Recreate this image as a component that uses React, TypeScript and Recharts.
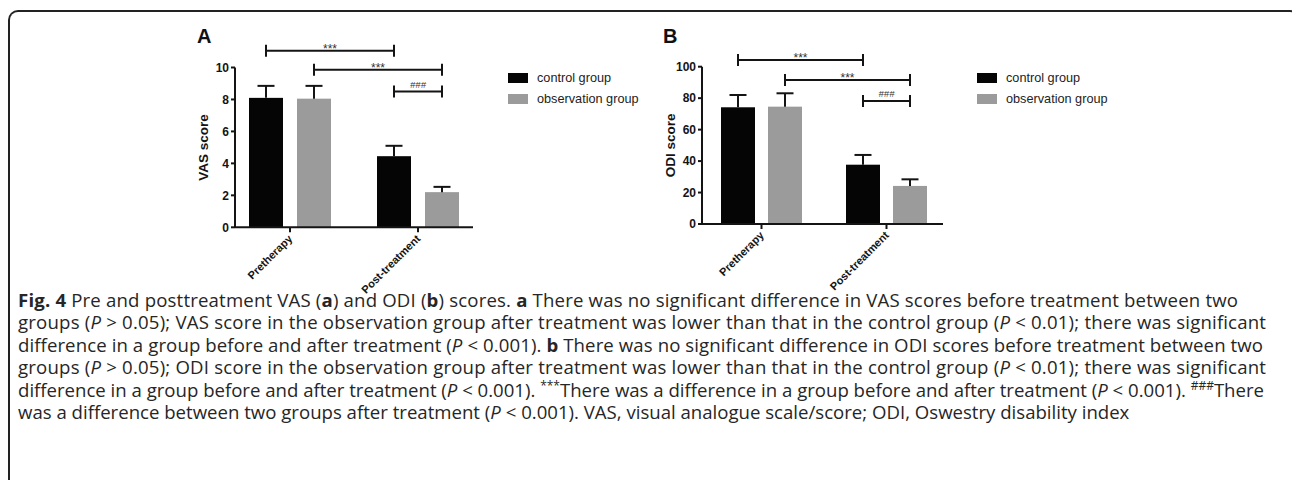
import React from 'react';
import { BarChart, Bar, XAxis, YAxis, ReferenceLine, Legend } from 'recharts';

const phases = ['Pretherapy', 'Post-treatment'];
const groupNames = ['control group', 'observation group'];
const groupColors = ['#050505', '#9b9b9b'];

// VAS (panel A)
const vasControl = [8.1, 4.45];
const vasObservation = [8.05, 2.2];
const vasControlSd = [0.75, 0.65];
const vasObservationSd = [0.8, 0.33];
const vasTicks = [0, 2, 4, 6, 8, 10];

// ODI (panel B)
const odiControl = [74.2, 37.7];
const odiObservation = [74.6, 24.2];
const odiControlSd = [7.8, 6.2];
const odiObservationSd = [8.5, 4.2];
const odiTicks = [0, 20, 40, 60, 80, 100];

// significance brackets: phase index + group index at each end
const vasBrackets = [
  { from: 0, fromGroup: 0, to: 1, toGroup: 0, y: 11.05, mark: '***' },
  { from: 0, fromGroup: 1, to: 1, toGroup: 1, y: 9.86, mark: '***' },
  { from: 1, fromGroup: 0, to: 1, toGroup: 1, y: 8.5, mark: '###' },
];
const odiBrackets = [
  { from: 0, fromGroup: 0, to: 1, toGroup: 0, y: 104.3, mark: '***' },
  { from: 0, fromGroup: 1, to: 1, toGroup: 1, y: 91.5, mark: '***' },
  { from: 1, fromGroup: 0, to: 1, toGroup: 1, y: 78.2, mark: '###' },
];

const makeRows = (ctrl: number[], obs: number[], ctrlSd: number[], obsSd: number[]) =>
  phases.map((p, i) => ({
    phase: p,
    control: ctrl[i],
    observation: obs[i],
    controlSd: ctrlSd[i],
    observationSd: obsSd[i],
  }));

const vasRows = makeRows(vasControl, vasObservation, vasControlSd, vasObservationSd);
const odiRows = makeRows(odiControl, odiObservation, odiControlSd, odiObservationSd);

const FONT = '"Liberation Sans", Arial, sans-serif';
const INK = '#141414';

const PhaseTick = (props: any) => {
  const { x, y, payload } = props;
  const ax = x + 3;
  const ay = y + 5;
  return (
    <text x={ax} y={ay} transform={`rotate(-45, ${ax}, ${ay})`} textAnchor="end"
      fontSize={11} fontWeight={700} fill={INK} fontFamily={FONT}>
      {payload.value}
    </text>
  );
};

// bar with an upward-only SD whisker (GraphPad style), scaled off the bar's own height
const whiskerBar = (sdKey: string) => (props: any) => {
  const { x, y, width, height, fill, payload, value } = props;
  const v = Array.isArray(value) ? value[1] - value[0] : value;
  const len = v ? (payload[sdKey] * height) / v : 0;
  const cx = x + width / 2;
  return (
    <g>
      <rect x={x} y={y} width={width} height={height} fill={fill} />
      <line x1={cx} x2={cx} y1={y} y2={y - len} stroke={INK} strokeWidth={2} />
      <line x1={cx - 8.5} x2={cx + 8.5} y1={y - len} y2={y - len} stroke={INK} strokeWidth={2} />
    </g>
  );
};

const makeBracket = (b: any, half: number) => (props: any) => {
  const { x1, x2, y1 } = props;
  const a = x1 + (b.fromGroup === 0 ? -half : half);
  const c = x2 + (b.toGroup === 0 ? -half : half);
  const hash = b.mark === '###';
  return (
    <g>
      <line x1={a} x2={c} y1={y1} y2={y1} stroke={INK} strokeWidth={2} />
      <line x1={a} x2={a} y1={y1 - 6} y2={y1 + 6} stroke={INK} strokeWidth={2} />
      <line x1={c} x2={c} y1={y1 - 6} y2={y1 + 6} stroke={INK} strokeWidth={2} />
      <text x={(a + c) / 2} y={hash ? y1 - 3.5 : y1 + 2} textAnchor="middle" fill="#333"
        fontSize={hash ? 9.5 : 12} fontStyle={hash ? 'italic' : 'normal'} fontFamily={FONT}>
        {b.mark}
      </text>
    </g>
  );
};

const LegendBox = (props: any) => {
  const { payload } = props;
  return (
    <div style={{ position: 'relative', height: 0 }}>
      {(payload || []).map((p: any, i: number) => (
        <div key={i} style={{ position: 'absolute', left: 0, top: i * 20.5, display: 'flex', alignItems: 'center', whiteSpace: 'nowrap', height: 10 }}>
          <span style={{ display: 'inline-block', width: 20, height: 10, background: p.color }} />
          <span style={{ marginLeft: 9, fontFamily: FONT, fontSize: 12.7, color: '#222', lineHeight: '10px' }}>{p.value}</span>
        </div>
      ))}
    </div>
  );
};

type PanelProps = {
  title: string;
  yLabel: string;
  rows: any[];
  ticks: number[];
  brackets: any[];
  left: number;
  width: number;
  margin: { top: number; right: number; bottom: number; left: number };
  padding: { left: number; right: number };
  barGap: number;
  legendLeft: number;
  titleX: number;
};

const Panel = (p: PanelProps) => {
  const half = (34 + p.barGap) / 2;
  return (
    <div style={{ position: 'absolute', left: p.left, top: 0 }}>
      <div style={{ position: 'absolute', left: p.titleX, top: 24, fontFamily: FONT, fontWeight: 700, fontSize: 20, color: '#111', lineHeight: '24px' }}>
        {p.title}
      </div>
      <BarChart width={p.width} height={300} data={p.rows} margin={p.margin} barSize={34} barGap={p.barGap}>
        <XAxis dataKey="phase" interval={0} height={70} padding={p.padding}
          axisLine={{ stroke: INK, strokeWidth: 2 }} tickLine={{ stroke: INK, strokeWidth: 2 }} tickSize={5}
          tick={<PhaseTick />} />
        <YAxis width={60} domain={[0, p.ticks[p.ticks.length - 1]]} ticks={p.ticks} interval={0}
          axisLine={{ stroke: INK, strokeWidth: 2 }} tickLine={{ stroke: INK, strokeWidth: 2 }} tickSize={4} tickMargin={2}
          tick={{ fontSize: 12, fontWeight: 700, fill: INK, fontFamily: FONT }}
          label={{ value: p.yLabel, angle: -90, position: 'insideLeft', offset: 28, style: { textAnchor: 'middle' }, fontSize: 13.5, fontWeight: 700, fill: INK, fontFamily: FONT }} />
        <Bar dataKey="control" name={groupNames[0]} fill={groupColors[0]} isAnimationActive={false}
          shape={whiskerBar('controlSd')} />
        <Bar dataKey="observation" name={groupNames[1]} fill={groupColors[1]} isAnimationActive={false}
          shape={whiskerBar('observationSd')} />
        {p.brackets.map((b, i) => (
          <ReferenceLine key={i} ifOverflow="visible"
            segment={[{ x: phases[b.from], y: b.y }, { x: phases[b.to], y: b.y }]}
            shape={makeBracket(b, half)} />
        ))}
        <Legend content={<LegendBox />} layout="horizontal" verticalAlign="bottom"
          wrapperStyle={{ left: p.legendLeft, top: 73, width: 200, height: 0 }} />
      </BarChart>
    </div>
  );
};

const P = () => <tspan fontStyle="italic">P</tspan>;
const B = (props: { children: React.ReactNode }) => <tspan fontWeight={700}>{props.children}</tspan>;
const Sup = (props: { children: string }) => (
  <>
    <tspan fontSize={12} dy={-7}>{props.children}</tspan>
    <tspan dy={7}>{''}</tspan>
  </>
);

// caption baselines and the widths each line fills in the reference (last line runs free)
const captionBaselines = [306.8, 329.3, 351.8, 374.3, 396.8, 419.3];
const captionWidths = [1220, 1248, 1245, 1248, 1246, 0];

const captionLines: React.ReactNode[] = [
  <><B>Fig. 4</B> Pre and posttreatment VAS (<B>a</B>) and ODI (<B>b</B>) scores. <B>a</B> There was no significant difference in VAS scores before treatment between two</>,
  <>groups (<P /> &gt; 0.05); VAS score in the observation group after treatment was lower than that in the control group (<P /> &lt; 0.01); there was significant</>,
  <>difference in a group before and after treatment (<P /> &lt; 0.001). <B>b</B> There was no significant difference in ODI scores before treatment between two</>,
  <>groups (<P /> &gt; 0.05); ODI score in the observation group after treatment was lower than that in the control group (<P /> &lt; 0.01); there was significant</>,
  <>difference in a group before and after treatment (<P /> &lt; 0.001). <Sup>***</Sup><tspan dy={7}>There was a difference in a group before and after treatment (</tspan><P /> &lt; 0.001). <tspan fontSize={12} dy={-7}>###</tspan><tspan dy={7}>There</tspan></>,
  <>was a difference between two groups after treatment (<P /> &lt; 0.001). VAS, visual analogue scale/score; ODI, Oswestry disability index</>,
];

export default function App() {
  return (
    <div style={{ position: 'absolute', left: 0, top: 0, width: 1292, height: 480, overflow: 'hidden', background: '#fff' }}>
      <div style={{ position: 'absolute', left: 8, top: 9.5, width: 1292, height: 600, borderTop: '2px solid #222', borderLeft: '2px solid #222', borderRight: '2px solid #222', borderRadius: 10, boxSizing: 'border-box' }} />
      <Panel title="A" yLabel="VAS score" rows={vasRows} ticks={vasTicks} brackets={vasBrackets}
        left={150} width={500} margin={{ top: 67.5, right: 177, bottom: 2.7, left: 25 }}
        padding={{ left: -9, right: -9 }} barGap={14} legendLeft={358} titleX={47} />
      <Panel title="B" yLabel="ODI score" rows={odiRows} ticks={odiTicks} brackets={odiBrackets}
        left={620} width={672} margin={{ top: 66.7, right: 349, bottom: 6, left: 22 }}
        padding={{ left: -3, right: -6 }} barGap={13} legendLeft={357} titleX={43} />
      <svg width={1292} height={480} style={{ position: 'absolute', left: 0, top: 0, pointerEvents: 'none' }}>
        {captionLines.map((line, i) => (
          <text key={i} x={18} y={captionBaselines[i]} fontFamily='"Open Sans", sans-serif' fontSize={18.6} fill="#262626"
            {...(captionWidths[i] ? { textLength: captionWidths[i], lengthAdjust: 'spacing' } : {})}>
            {line}
          </text>
        ))}
      </svg>
    </div>
  );
}
